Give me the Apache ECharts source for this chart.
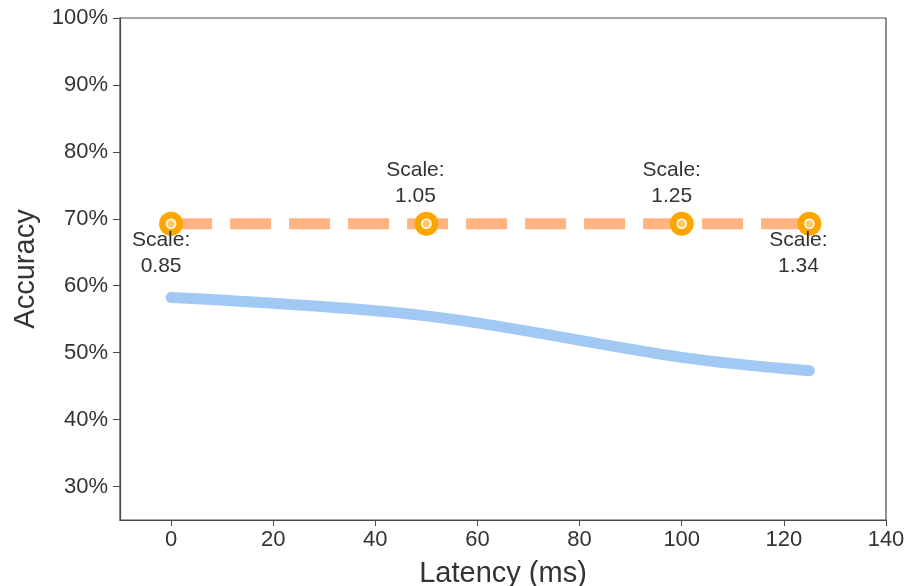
<!DOCTYPE html>
<html>
<head>
<meta charset="utf-8">
<script src="https://cdn.jsdelivr.net/npm/echarts@6/dist/echarts.min.js"></script>
<style>html,body{margin:0;padding:0;background:#fff}#c{width:909px;height:586px}</style>
</head>
<body>
<div id="c"></div>
<script>
const latency = [0, 50, 100, 125];
const accBaseline = [58.25, 55.5, 49.3, 47.3];
const accScaled = [69.25, 69.25, 69.25, 69.25];
const scaleLabels = ['0.85', '1.05', '1.25', '1.34'];
const xTicks = [0, 20, 40, 60, 80, 100, 120, 140];
const yTicks = [30, 40, 50, 60, 70, 80, 90, 100];
const labelOffsets = [[-10, 29], [-11, -41], [-10, -41], [-11, 29]];

const font = 'Liberation Sans, Arial, sans-serif';
const axisColor = '#4a4a4a';
const chart = echarts.init(document.getElementById('c'));
chart.setOption({
  animation: false,
  grid: {left: 120, right: 23, top: 18, bottom: 66, show: true, borderColor: axisColor, borderWidth: 1.2,
         containLabel: false, outerBoundsMode: 'none'},
  xAxis: {
    type: 'value', min: -10, max: 140,
    name: 'Latency (ms)', nameLocation: 'middle', nameGap: 39,
    nameTextStyle: {fontSize: 29, color: '#333', fontFamily: font},
    axisLine: {show: true, onZero: false, lineStyle: {color: axisColor, width: 1.2}},
    axisTick: {show: true, length: 6, customValues: xTicks, lineStyle: {color: axisColor}},
    axisLabel: {customValues: xTicks, fontSize: 22, color: '#333', margin: 9, fontFamily: font},
    splitLine: {show: false}
  },
  yAxis: {
    type: 'value', min: 25, max: 100,
    name: 'Accuracy', nameLocation: 'middle', nameGap: 79,
    nameTextStyle: {fontSize: 29, color: '#333', fontFamily: font},
    axisLine: {show: true, onZero: false, lineStyle: {color: axisColor, width: 1.2}},
    axisTick: {show: true, length: 7, customValues: yTicks, lineStyle: {color: axisColor}},
    axisLabel: {customValues: yTicks, fontSize: 22, color: '#333', margin: 12, fontFamily: font, formatter: '{value}%'},
    splitLine: {show: false}
  },
  series: [
    {
      type: 'line', smooth: 0.35, showSymbol: false,
      data: latency.map((x, i) => [x, accBaseline[i]]),
      lineStyle: {color: '#a1c9f4', width: 11, cap: 'round'}
    },
    {
      type: 'line', showSymbol: false,
      data: latency.map((x, i) => [x, accScaled[i]]),
      lineStyle: {color: '#ffb482', width: 11, type: [41, 18], cap: 'butt'}
    },
    {
      type: 'scatter', symbol: 'circle', symbolSize: 24, z: 5,
      itemStyle: {color: '#ffa500', opacity: 1},
      data: latency.map((x, i) => ({
        value: [x, accScaled[i]],
        label: {
          show: true, position: 'inside', offset: labelOffsets[i],
          formatter: 'Scale:\n' + scaleLabels[i],
          fontSize: 21, lineHeight: 26, color: '#333', fontFamily: font, align: 'center'
        }
      }))
    },
    {
      type: 'scatter', symbol: 'circle', symbolSize: 9, z: 6, silent: true,
      itemStyle: {color: '#ffc766', borderColor: '#ffffff', borderWidth: 1.6, opacity: 1},
      data: latency.map((x, i) => [x, accScaled[i]])
    }
  ]
});
</script>
</body>
</html>
